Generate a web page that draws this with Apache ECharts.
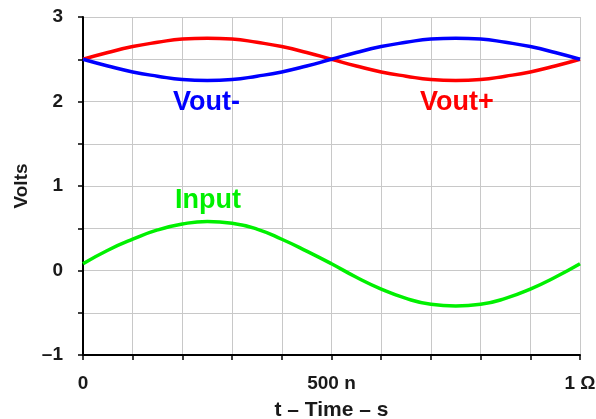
<!DOCTYPE html>
<html>
<head>
<meta charset="utf-8">
<script src="https://cdn.jsdelivr.net/npm/echarts@6/dist/echarts.min.js"></script>
<style>
  html, body { margin: 0; padding: 0; background: #fff; }
  #chart { width: 596px; height: 419px; }
</style>
</head>
<body>
<div id="chart"></div>
<script>
// time in ns, read every 50 n
var timeNs = [0, 50, 100, 150, 200, 250, 300, 350, 400, 450, 500,
              550, 600, 650, 700, 750, 800, 850, 900, 950, 1000];
var voutPlus = [2.50, 2.58, 2.65, 2.70, 2.74, 2.75, 2.74, 2.70, 2.65, 2.58, 2.50,
                2.42, 2.35, 2.30, 2.26, 2.25, 2.26, 2.30, 2.35, 2.42, 2.50];
var voutMinus = [2.50, 2.42, 2.35, 2.30, 2.26, 2.25, 2.26, 2.30, 2.35, 2.42, 2.50,
                 2.58, 2.65, 2.70, 2.74, 2.75, 2.74, 2.70, 2.65, 2.58, 2.50];
var input = [0.08, 0.24, 0.37, 0.48, 0.55, 0.58, 0.56, 0.49, 0.37, 0.23, 0.08,
             -0.08, -0.22, -0.33, -0.40, -0.42, -0.40, -0.33, -0.22, -0.08, 0.08];
var xTickLabels = {0: '0', 500: '500 n', 1000: '1 \u03A9'};
var yTickLabels = {'-1': '\u20131', '0': '0', '1': '1', '2': '2', '3': '3'};

function pairs(ys) {
    var out = [];
    for (var i = 0; i < timeNs.length; i++) out.push([timeNs[i], ys[i]]);
    return out;
}

var font = 'Liberation Sans, Arial, sans-serif';
var chart = echarts.init(document.getElementById('chart'));

var option = {
    animation: false,
    grid: { left: 83, right: 16, top: 17, bottom: 64, containLabel: false, outerBoundsMode: 'none' },
    xAxis: {
        type: 'value',
        min: 0, max: 1000, interval: 100,
        name: 't \u2013 Time \u2013 s',
        nameLocation: 'middle',
        nameGap: 45,
        nameTextStyle: { fontFamily: font, fontWeight: 'bold', fontSize: 21, color: '#1a1a1a' },
        axisLine: { onZero: false, lineStyle: { color: '#000', width: 2 } },
        axisTick: { length: 5, lineStyle: { color: '#000', width: 1.5 } },
        axisLabel: {
            margin: 19,
            fontFamily: font, fontWeight: 'bold', fontSize: 19, color: '#1a1a1a',
            formatter: function (v) { return xTickLabels[v] || ''; }
        },
        splitLine: { show: true, lineStyle: { color: '#c8c8c8', width: 1 } }
    },
    yAxis: {
        type: 'value',
        min: -1, max: 3, interval: 0.5,
        name: 'Volts',
        nameLocation: 'middle',
        nameRotate: 90,
        nameGap: 52,
        nameTextStyle: { fontFamily: font, fontWeight: 'bold', fontSize: 19, color: '#1a1a1a' },
        axisLine: { show: true, onZero: false, lineStyle: { color: '#000', width: 2 } },
        axisTick: { show: true, length: 5, lineStyle: { color: '#000', width: 1.5 } },
        axisLabel: {
            margin: 20,
            fontFamily: font, fontWeight: 'bold', fontSize: 19, color: '#1a1a1a',
            formatter: function (v) { return yTickLabels[String(v)] || ''; }
        },
        splitLine: { show: true, lineStyle: { color: '#c8c8c8', width: 1 } }
    },
    series: [
        {
            name: 'Vout+', type: 'line', smooth: true, symbol: 'none',
            lineStyle: { color: '#ff0000', width: 3.5 },
            data: pairs(voutPlus)
        },
        {
            name: 'Vout-', type: 'line', smooth: true, symbol: 'none',
            lineStyle: { color: '#0000ff', width: 3.5 },
            data: pairs(voutMinus)
        },
        {
            name: 'Input', type: 'line', smooth: true, symbol: 'none',
            lineStyle: { color: '#00f000', width: 3.5 },
            data: pairs(input)
        }
    ],
    graphic: [
        { type: 'text', z: 100, left: 173, top: 89, style: { text: 'Vout-', fill: '#0000ff', font: 'bold 27px ' + font } },
        { type: 'text', z: 100, left: 420, top: 89, style: { text: 'Vout+', fill: '#ff0000', font: 'bold 27px ' + font } },
        { type: 'text', z: 100, left: 175, top: 187, style: { text: 'Input', fill: '#00f000', font: 'bold 27px ' + font } }
    ]
};

chart.setOption(option);
</script>
</body>
</html>
